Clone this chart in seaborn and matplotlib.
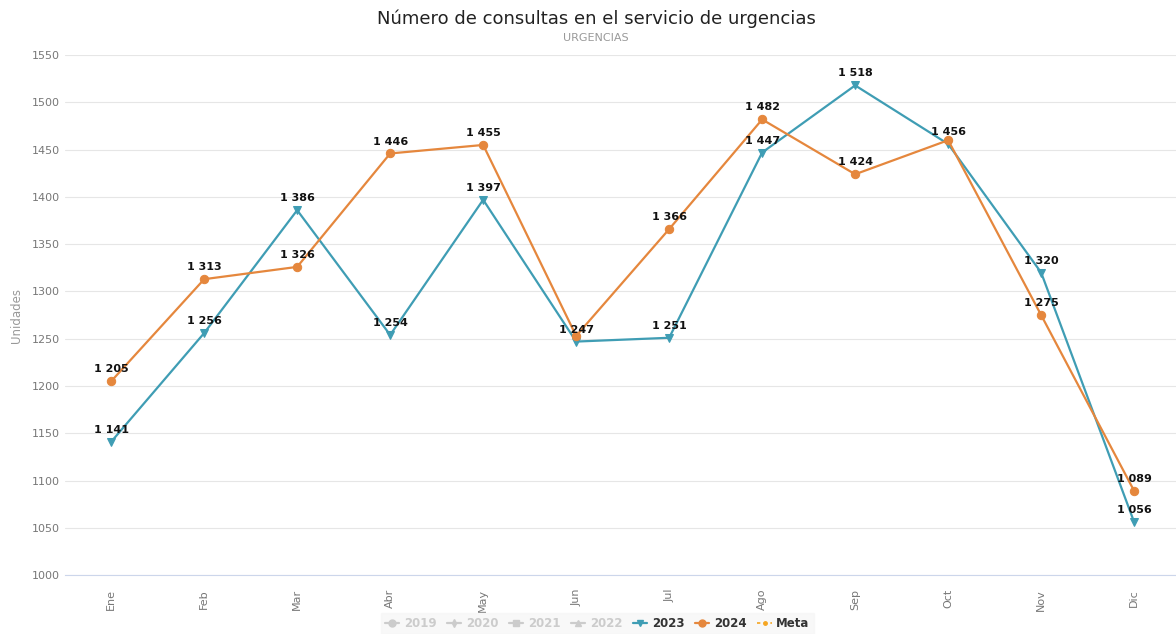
import pandas as pd
import matplotlib.pyplot as plt
from matplotlib.lines import Line2D
import seaborn as sns

# Monthly emergency consultations
months = ["Ene", "Feb", "Mar", "Abr", "May", "Jun", "Jul", "Ago", "Sep", "Oct", "Nov", "Dic"]
values_2023 = [1141, 1256, 1386, 1254, 1397, 1247, 1251, 1447, 1518, 1456, 1320, 1056]
values_2024 = [1205, 1313, 1326, 1446, 1455, 1253, 1366, 1482, 1424, 1460, 1275, 1089]
# labels hidden where they collide with the other series
hidden_2024 = ["Jun", "Oct"]

y_ticks = list(range(1000, 1551, 50))

COLOR_2023 = "#3f9db4"
COLOR_2024 = "#e5873d"


def fmt(v):
    return f"{v:,}".replace(",", " ")


def build_frame():
    df_23 = pd.DataFrame({"mes": months, "valor": values_2023, "serie": "2023"})
    df_24 = pd.DataFrame({"mes": months, "valor": values_2024, "serie": "2024"})
    df = pd.concat([df_23, df_24], ignore_index=True)
    df["pos"] = df["mes"].map({m: i for i, m in enumerate(months)})
    return df


def plot_chart(df):
    sns.set_style("white")
    plt.rcParams["font.family"] = ["DejaVu Sans"]

    fig = plt.figure(figsize=(11.76, 6.34), dpi=100)
    ax = fig.add_axes([0.055, 0.093, 0.945, 0.82])

    for serie, color, marker in [("2023", COLOR_2023, "v"), ("2024", COLOR_2024, "o")]:
        sub = df[df["serie"] == serie]
        sns.lineplot(data=sub, x="pos", y="valor", color=color, marker=marker,
                     markersize=6, markeredgecolor=color, linewidth=1.6, ax=ax,
                     legend=False, zorder=3, clip_on=False)
        for _, row in sub.iterrows():
            if serie == "2024" and row["mes"] in hidden_2024:
                continue
            ax.annotate(fmt(row["valor"]), (row["pos"], row["valor"]),
                        xytext=(0, 5), textcoords="offset points", ha="center",
                        va="bottom", fontsize=8, fontweight="bold", color="#111111",
                        zorder=5)

    ax.set_xlim(-0.5, 11.45)
    ax.set_ylim(1000, 1550)
    ax.set_yticks(y_ticks)
    ax.set_xticks(range(len(months)))
    ax.set_xticklabels(months, rotation=90)
    ax.tick_params(axis="both", length=0, labelsize=8, colors="#777777")
    ax.tick_params(axis="x", pad=10)
    ax.grid(axis="y", color="#e6e6e6", linewidth=0.8)
    for side in ["top", "right", "left"]:
        ax.spines[side].set_visible(False)
    ax.spines["bottom"].set_color("#ccd6eb")
    ax.set_xlabel("")
    ax.set_ylabel("Unidades", fontsize=8.5, color="#999999", labelpad=6)

    fig.text(0.507, 0.97, "Número de consultas en el servicio de urgencias",
             ha="center", va="center", fontsize=13, color="#222222")
    fig.text(0.507, 0.94, "URGENCIAS", ha="center", va="center",
             fontsize=8, color="#999999")

    grey = "#cccccc"
    handles = [
        Line2D([], [], color=grey, marker="o", markersize=5, linewidth=1.6),
        Line2D([], [], color=grey, marker="d", markersize=4, linewidth=1.6),
        Line2D([], [], color=grey, marker="s", markersize=5, linewidth=1.6),
        Line2D([], [], color=grey, marker="^", markersize=5, linewidth=1.6),
        Line2D([], [], color=COLOR_2023, marker="v", markersize=5, linewidth=1.6),
        Line2D([], [], color=COLOR_2024, marker="o", markersize=5, linewidth=1.6),
        Line2D([], [], color="#f5a623", marker="o", markersize=2.5, linewidth=1.2,
               linestyle=(0, (2, 2))),
    ]
    names = ["2019", "2020", "2021", "2022", "2023", "2024", "Meta"]
    leg = fig.legend(handles, names, loc="center", bbox_to_anchor=(0.508, 0.016),
                     ncol=7, frameon=True, fontsize=8.5, handlelength=1.2,
                     handletextpad=0.4, columnspacing=0.9, borderpad=0.35)
    leg.get_frame().set_facecolor("#f7f7f7")
    leg.get_frame().set_edgecolor("#f7f7f7")
    leg.get_frame().set_boxstyle("square", pad=0.0)
    for text, name in zip(leg.get_texts(), names):
        text.set_fontweight("bold")
        text.set_color(grey if name in ["2019", "2020", "2021", "2022"] else "#333333")

    fig.savefig("out.png", dpi=100)


def main():
    df = build_frame()
    plot_chart(df)


if __name__ == "__main__":
    main()
